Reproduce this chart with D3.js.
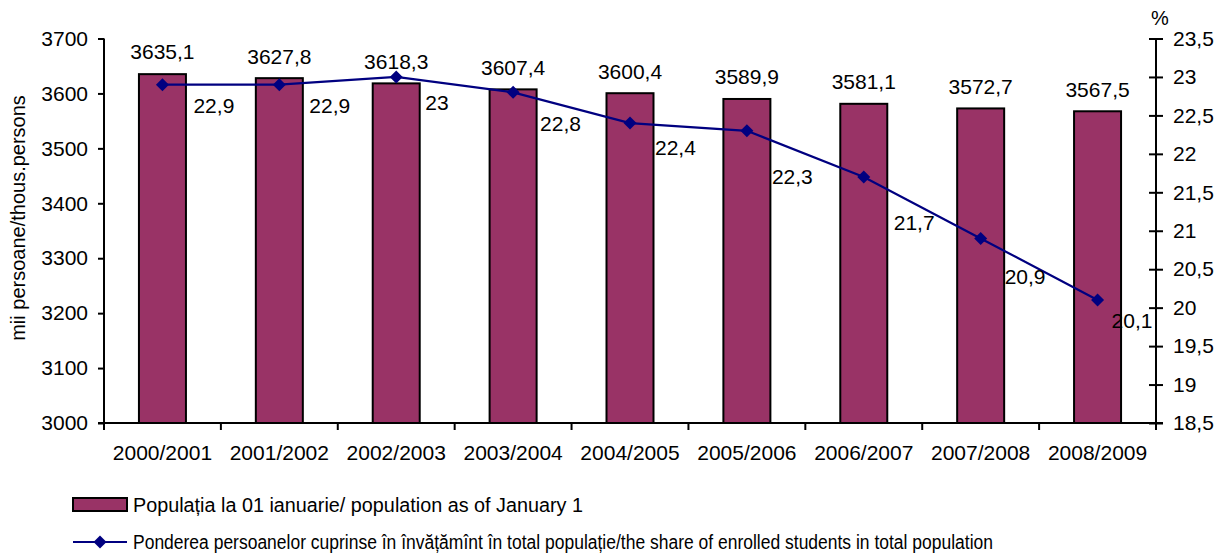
<!DOCTYPE html>
<html><head><meta charset="utf-8">
<script src="https://cdn.jsdelivr.net/npm/d3@7"></script>
<style>body{margin:0;background:#fff}svg{display:block}text{font-family:"Liberation Sans",Arial,sans-serif;fill:#000}</style>
</head><body>
<svg id="c" width="1226" height="556"></svg>
<script>
const categories = ["2000/2001","2001/2002","2002/2003","2003/2004","2004/2005","2005/2006","2006/2007","2007/2008","2008/2009"];
const population = [3635.1,3627.8,3618.3,3607.4,3600.4,3589.9,3581.1,3572.7,3567.5];
const share = [22.9,22.9,23,22.8,22.4,22.3,21.7,20.9,20.1];
const leftTicks = [3000,3100,3200,3300,3400,3500,3600,3700];
const rightTicks = [18.5,19,19.5,20,20.5,21,21.5,22,22.5,23,23.5];
// label nudges (px) for line labels, as placed in the original
const lineLabelDx = [31,30,29,27,25,25,30,24,14];
const lineLabelDy = [21,21,26,31,25,46,46,38,21];
const legendLabels = ["Populația la 01 ianuarie/ population as of January 1","Ponderea persoanelor cuprinse în învățămînt în total populație/the share of enrolled students in total population"];
const legendWidths = [450, 860];

const fmt = v => String(v).replace(".", ",");
const svg = d3.select("#c");
const FS = 21;
const L = 104, R = 1156, T = 38.5, B = 423;
const x = d3.scaleBand().domain(categories).range([L,R]).paddingInner(0).paddingOuter(0);
const yL = d3.scaleLinear().domain([3000,3700]).range([B,T]);
const yR = d3.scaleLinear().domain([18.5,23.5]).range([B,T]);
const barW = 47;
const purple = "#993366", navy = "#000080";

// bars
svg.append("g").selectAll("rect").data(population).join("rect")
  .attr("x",(d,i)=>x(categories[i])+x.bandwidth()/2-barW/2)
  .attr("y",d=>yL(d)).attr("width",barW).attr("height",d=>B-yL(d))
  .attr("fill",purple).attr("stroke","#000").attr("stroke-width",2);

// bar labels
svg.append("g").selectAll("text").data(population).join("text")
  .attr("x",(d,i)=>x(categories[i])+x.bandwidth()/2)
  .attr("y",d=>yL(d)-22).attr("dy","0.35em").attr("text-anchor","middle")
  .attr("font-size",FS).text(d=>fmt(d));

// left axis
const la = svg.append("g").attr("transform",`translate(${L},0)`)
  .call(d3.axisLeft(yL).tickValues(leftTicks).tickSize(6).tickPadding(10).tickFormat(d=>d));
la.select(".domain").attr("stroke","#000").attr("stroke-width",2).attr("d",`M0,${T}V${B}`);
la.selectAll(".tick line").attr("stroke","#000").attr("stroke-width",2);
la.selectAll(".tick text").attr("font-size",FS).attr("font-family","Liberation Sans, Arial, sans-serif").attr("fill","#000");

// right axis
const ra = svg.append("g").attr("transform",`translate(${R},0)`)
  .call(d3.axisRight(yR).tickValues(rightTicks).tickSize(7).tickPadding(10).tickFormat(d=>fmt(d)));
ra.select(".domain").attr("stroke","#000").attr("stroke-width",2).attr("d",`M0,${T}V${B}`);
ra.selectAll(".tick line").attr("stroke","#000").attr("stroke-width",2).attr("x1",-7);
ra.selectAll(".tick text").attr("font-size",FS).attr("font-family","Liberation Sans, Arial, sans-serif").attr("fill","#000");

// x axis
svg.append("line").attr("x1",L-6).attr("x2",R+7).attr("y1",B).attr("y2",B).attr("stroke","#000").attr("stroke-width",2);
const bounds = categories.map(c=>x(c)).concat([R]);
svg.append("g").selectAll("line").data(bounds).join("line")
  .attr("x1",d=>d).attr("x2",d=>d).attr("y1",B).attr("y2",B+7).attr("stroke","#000").attr("stroke-width",2);
svg.append("g").selectAll("text").data(categories).join("text")
  .attr("x",d=>x(d)+x.bandwidth()/2).attr("y",453).attr("dy","0.35em")
  .attr("text-anchor","middle").attr("font-size",FS).text(d=>d);

// line
const px = i => x(categories[i])+x.bandwidth()/2;
svg.append("path").datum(share)
  .attr("d",d3.line().x((d,i)=>px(i)).y(d=>yR(d)))
  .attr("fill","none").attr("stroke",navy).attr("stroke-width",2.2);
const diamond = "M0,-6.5L6.5,0L0,6.5L-6.5,0Z";
svg.append("g").selectAll("path").data(share).join("path")
  .attr("d",diamond).attr("transform",(d,i)=>`translate(${px(i)},${yR(d)})`).attr("fill",navy);
svg.append("g").selectAll("text").data(share).join("text")
  .attr("x",(d,i)=>px(i)+lineLabelDx[i]).attr("y",(d,i)=>yR(d)+lineLabelDy[i]).attr("dy","0.35em")
  .attr("font-size",FS).text(d=>fmt(d));

// axis titles
svg.append("text").attr("transform","translate(18,218) rotate(-90)").attr("dy","0.35em")
  .attr("text-anchor","middle").attr("font-size",FS-1).text("mii persoane/thous.persons");
svg.append("text").attr("x",1160).attr("y",18).attr("dy","0.35em").attr("text-anchor","middle").attr("font-size",FS-1).text("%");

// legend
svg.append("rect").attr("x",73).attr("y",498).attr("width",54).attr("height",13)
  .attr("fill",purple).attr("stroke","#000").attr("stroke-width",2);
svg.append("line").attr("x1",73).attr("x2",127).attr("y1",542).attr("y2",542).attr("stroke",navy).attr("stroke-width",2.2);
svg.append("path").attr("d",diamond).attr("transform","translate(100,542)").attr("fill",navy);
svg.append("g").selectAll("text").data(legendLabels).join("text")
  .attr("x",133).attr("y",(d,i)=>505+i*37).attr("dy","0.35em").attr("font-size",20)
  .attr("textLength",(d,i)=>legendWidths[i]).attr("lengthAdjust","spacingAndGlyphs").text(d=>d);
</script>
</body></html>
